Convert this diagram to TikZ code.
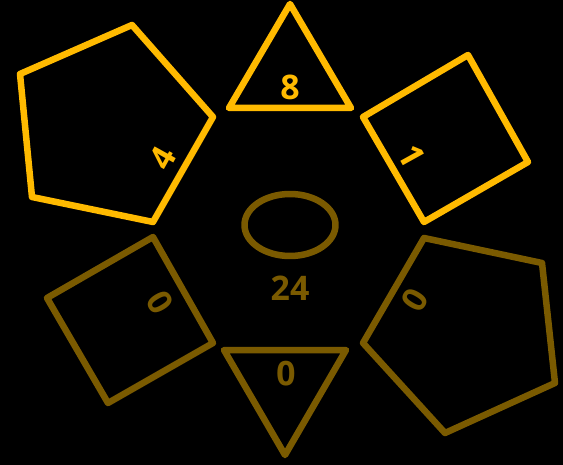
\documentclass[tikz,border=0pt]{standalone}
\usepackage{fontspec}
\setmainfont{Open Sans}
\usetikzlibrary{shapes.geometric}

\definecolor{amberlit}{RGB}{255,186,0}
\definecolor{amberdim}{RGB}{122,90,0}

\begin{document}
\begin{tikzpicture}[
  x=1bp, y=-1bp,
  every node/.style={font=\fontsize{34}{34}\selectfont\bfseries, inner sep=0pt},
  litshape/.style={draw=amberlit, line width=6.5bp, line join=round},
  dimshape/.style={draw=amberdim, line width=6.5bp, line join=round},
  litnum/.style={text=amberlit},
  dimnum/.style={text=amberdim}
]
  \fill[black] (0,0) rectangle (563,465);
  \useasboundingbox (0,0) rectangle (563,465);

  % lit shapes
  \draw[litshape] (132,25) -- (213,117) -- (153,222) -- (32,197) -- (20,74) -- cycle;
  \draw[litshape] (290,4) -- (351,108) -- (229,108) -- cycle;
  \draw[litshape] (468,55) -- (528,162) -- (424,222) -- (363,117) -- cycle;

  % dim shapes
  \draw[dimshape] (153,237) -- (213,343) -- (108,403) -- (47,298) -- cycle;
  \draw[dimshape] (224,350) -- (346,350) -- (285,455) -- cycle;
  \draw[dimshape] (424,238) -- (542,263) -- (555,383) -- (445,433) -- (363,343) -- cycle;
  \node[dimshape, ellipse, minimum width=91bp, minimum height=62bp] (hub) at (290,225) {};

  % counts
  \node[litnum, rotate=61] (pentafour) at (163,158) {4};
  \node[litnum] (trieight) at (290,87) {8};
  \node[litnum, rotate=-61] (squareone) at (412,156) {1};
  \node[dimnum, rotate=121] (squarezero) at (160,302) {0};
  \node[dimnum, rotate=180] (trizero) at (286,374) {0};
  \node[dimnum, rotate=-121] (pentazero) at (415,300) {0};
  \node[dimnum] (total) at (290,288) {24};
\end{tikzpicture}
\end{document}
